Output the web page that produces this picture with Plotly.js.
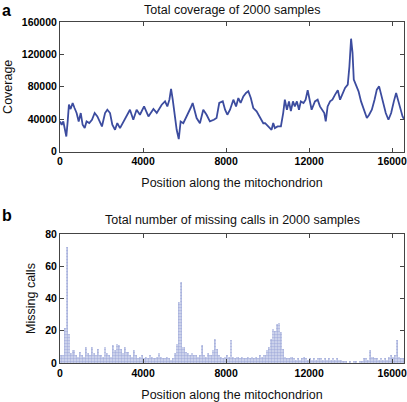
<!DOCTYPE html>
<html>
<head>
<meta charset="utf-8">
<script src="https://cdn.plot.ly/plotly-3.0.1.min.js"></script>
<style>
html,body{margin:0;padding:0;background:#fff;}
#chart{width:407px;height:402px;}
</style>
</head>
<body>
<div id="chart"></div>
<script>
// Panel a: total coverage along the mitochondrion
const covPos = [0,80,160,240,305,370,430,510,610,700,800,900,1000,1090,1190,1280,1410,1540,1670,1800,1930,2020,2170,2280,2410,2520,2650,2760,2890,3050,3210,3340,3370,3530,3690,3850,4050,4260,4500,4660,4900,5060,5170,5270,5350,5430,5540,5620,5720,5810,5940,6070,6180,6290,6390,6500,6580,6740,6900,7060,7220,7410,7540,7670,7840,7950,8060,8190,8350,8480,8590,8700,8830,8960,9070,9190,9310,9470,9630,9790,9880,10030,10190,10270,10350,10480,10640,10750,10830,10930,11030,11120,11220,11310,11410,11510,11600,11730,11830,11930,12020,12120,12280,12410,12520,12640,12730,12800,12890,13010,13120,13250,13380,13490,13600,13730,13860,13940,14020,14090,14150,14250,14380,14500,14630,14780,14890,15020,15150,15260,15370,15470,15580,15690,15820,15950,16080,16190,16300,16400,16500,16569];
const coverage = [37200,33100,37200,26900,18600,37200,57900,52500,60000,53800,47600,37200,47600,33100,29000,37200,35200,39300,47600,43400,35200,31000,47600,51700,47600,33100,26900,35200,29000,37200,43400,51700,51700,39300,51700,45500,55800,43400,52600,47800,57900,62000,55800,64100,77400,64100,39300,26900,15400,37200,35000,41400,47600,53800,60000,47600,41400,35000,51700,45500,37200,39300,41400,60000,62000,51700,45500,51700,64100,55800,66100,60000,68200,72400,74500,66100,53800,49600,41400,35000,35200,31000,26900,35200,29000,31000,31000,47600,64100,51700,62000,50000,62000,55800,62000,51700,62000,60000,64100,75700,62000,51700,62000,64100,55800,51700,47600,37200,55800,62000,64100,70300,75700,64100,70300,78500,82600,105400,139400,122000,88900,82600,74400,62000,51700,41400,45500,51700,64100,76500,80500,70300,60000,47600,39300,47600,62000,72400,62000,51700,43400,40000];

// Panel b: missing calls, maximum in each 100-bp window (window centres)
const missPos = [];
for (let i = 0; i < 166; i++) missPos.push(i * 100 + 50);
const missing = [5,5,22,72,18,6,8,5,4,7,
  5,4,10,6,5,10,6,5,9,5,
  4,10,6,5,4,11,8,12,11,9,
  6,10,7,5,4,8,5,3,4,5,
  3,4,3,5,4,3,4,6,4,3,
  3,4,3,2,3,6,12,38,50,10,
  7,6,5,6,5,5,4,5,11,5,
  4,6,5,8,15,9,5,4,3,4,
  5,4,14,4,3,4,3,4,3,3,
  4,3,4,3,4,3,5,4,5,8,
  10,15,21,20,24,25,19,9,4,3,
  3,4,3,2,3,2,3,4,3,2,
  3,2,3,2,3,3,2,3,2,3,
  2,3,2,3,2,2,1,1,0,1,
  0,1,1,0,1,1,3,3,2,8,
  4,3,3,2,3,2,3,2,4,5,
  4,5,14,4,3,3];

const xTicks = [0,4000,8000,12000,16000];
const covTicks = [0,40000,80000,120000,160000];
const missTicks = [0,20,40,60,80];

const FONT = 'Liberation Sans, Arial, Helvetica, sans-serif';
const tickFont = {family: FONT, size: 10.5, color: '#000', weight: 'bold'};
const titleFont = {family: FONT, size: 12.5, color: '#111'};

function axisBase(extra) {
  return Object.assign({
    showline: true, mirror: 'ticks', linecolor: '#444', linewidth: 1,
    ticks: 'inside', ticklen: 4, tickcolor: '#444',
    showgrid: false, zeroline: false, ticklabeloverflow: 'allow',
    tickfont: tickFont
  }, extra);
}

const data = [
  {x: covPos, y: coverage, xaxis: 'x', yaxis: 'y', type: 'scatter', mode: 'lines',
   line: {color: '#3c4c9f', width: 1.8}, hoverinfo: 'none'},
  {x: missPos, y: missing, xaxis: 'x2', yaxis: 'y2', type: 'bar', width: 100,
   marker: {color: 'rgba(150,160,215,0.35)', line: {width: 0},
     pattern: {shape: '.', size: 3, solidity: 0.55, fgcolor: '#7383c8', fillmode: 'overlay'}},
   hoverinfo: 'none'}
];

const layout = {
  width: 407, height: 402,
  margin: {l: 60, r: 3, t: 22, b: 39},
  paper_bgcolor: '#fff', plot_bgcolor: '#fff',
  showlegend: false, bargap: 0,
  xaxis: axisBase({domain: [0, 1], anchor: 'y', range: [0, 16569],
    tickvals: xTicks, ticktext: xTicks.map(String),
    title: {text: 'Position along the mitochondrion', font: titleFont, standoff: 12}}),
  yaxis: axisBase({domain: [0.62, 1], anchor: 'x', range: [0, 160000],
    tickvals: covTicks, ticktext: covTicks.map(String),
    title: {text: 'Coverage', font: titleFont, standoff: 6}}),
  xaxis2: axisBase({domain: [0, 1], anchor: 'y2', range: [0, 16569],
    tickvals: xTicks, ticktext: xTicks.map(String),
    title: {text: 'Position along the mitochondrion', font: titleFont, standoff: 13}}),
  yaxis2: axisBase({domain: [0, 0.378], anchor: 'x2', range: [0, 80],
    tickvals: missTicks, ticktext: missTicks.map(String),
    title: {text: 'Missing calls', font: titleFont, standoff: 6}}),
  annotations: [
    {text: 'Total coverage of 2000 samples', xref: 'paper', yref: 'paper', x: 0.5, y: 1,
     yshift: 12, showarrow: false, font: titleFont, xanchor: 'center', yanchor: 'middle'},
    {text: 'Total number of missing calls in 2000 samples', xref: 'paper', yref: 'paper', x: 0.5, y: 0.378,
     yshift: 14, showarrow: false, font: titleFont, xanchor: 'center', yanchor: 'middle'},
    {text: '<b>a</b>', xref: 'paper', yref: 'paper', x: 0, y: 1, xshift: -60, yshift: 22,
     showarrow: false, font: {family: FONT, size: 16, color: '#000'}, xanchor: 'left', yanchor: 'top'},
    {text: '<b>b</b>', xref: 'paper', yref: 'paper', x: 0, y: 0.378, xshift: -60, yshift: 29,
     showarrow: false, font: {family: FONT, size: 16, color: '#000'}, xanchor: 'left', yanchor: 'top'}
  ]
};

Plotly.newPlot('chart', data, layout, {staticPlot: true, displayModeBar: false});
</script>
</body>
</html>
